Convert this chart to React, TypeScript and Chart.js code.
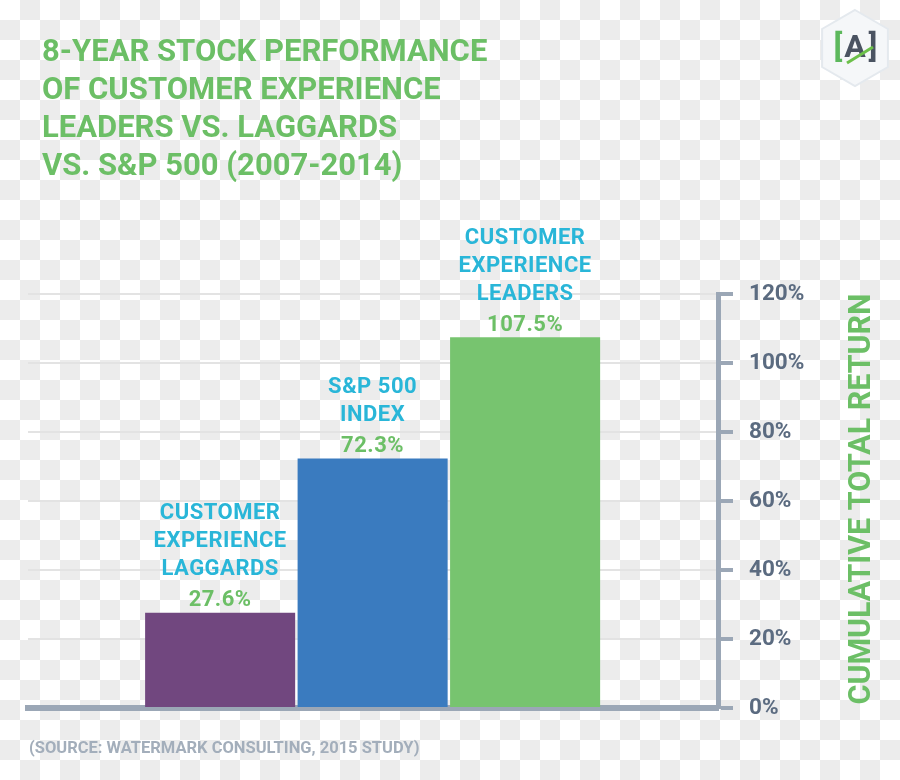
import React, { useEffect, useRef } from 'react';
import { Chart, registerables } from 'chart.js';

Chart.register(...registerables);

const TITLE_LINES = [
  '8-YEAR STOCK PERFORMANCE',
  'OF CUSTOMER EXPERIENCE',
  'LEADERS VS. LAGGARDS',
  'VS. S&P 500 (2007-2014)',
];
const CATEGORY_LINES = [
  ['CUSTOMER', 'EXPERIENCE', 'LAGGARDS'],
  ['S&P 500', 'INDEX'],
  ['CUSTOMER', 'EXPERIENCE', 'LEADERS'],
];
const VALUES = [27.6, 72.3, 107.5];
const BAR_COLORS = ['#71477f', '#3a7bbf', '#77c46f'];
const Y_TICKS = [0, 20, 40, 60, 80, 100, 120];
const AXIS_TITLE = 'CUMULATIVE TOTAL RETURN';
const SOURCE = '(SOURCE: WATERMARK CONSULTING, 2015 STUDY)';

const GREEN = '#6cbf66';
const CYAN = '#29b6d8';
const SLATE = '#5b6b80';
const AXIS = '#9ba7b6';
const FONT = 'Roboto, "Liberation Sans", sans-serif';

const overlay = {
  id: 'overlay',
  beforeDraw(chart: any) {
    const ctx = chart.ctx;
    ctx.save();
    // Title
    ctx.fillStyle = GREEN;
    ctx.font = `bold 31px ${FONT}`;
    ctx.textAlign = 'left';
    ctx.textBaseline = 'middle';
    TITLE_LINES.forEach((t, i) => ctx.fillText(t, 42, 53 + i * 38));

    // Source
    ctx.fillStyle = '#a3aebb';
    ctx.font = `bold 16.5px ${FONT}`;
    ctx.fillText(SOURCE, 29, 749);

    // Logo
    const cx = 855, cy = 48, R = 38;
    ctx.beginPath();
    for (let k = 0; k < 6; k++) {
      const a = -Math.PI / 2 + (k * Math.PI) / 3;
      const px = cx + R * Math.cos(a);
      const py = cy + R * Math.sin(a);
      if (k === 0) ctx.moveTo(px, py); else ctx.lineTo(px, py);
    }
    ctx.closePath();
    ctx.fillStyle = '#f5f7f9';
    ctx.fill();
    ctx.strokeStyle = '#e4e9ee';
    ctx.lineWidth = 2;
    ctx.stroke();
    ctx.font = `bold 32px ${FONT}`;
    ctx.textAlign = 'center';
    ctx.fillStyle = '#5cb85c';
    ctx.fillText('[', 838, 49);
    ctx.fillStyle = '#4a5361';
    ctx.fillText('A', 855, 49);
    ctx.fillText(']', 873, 49);
    ctx.strokeStyle = '#6cc04a';
    ctx.lineWidth = 3;
    ctx.beginPath();
    ctx.moveTo(847, 63);
    ctx.lineTo(873, 47);
    ctx.stroke();

    // Axis title (vertical, right)
    const yScale = chart.scales.y;
    const midY = (yScale.top + yScale.bottom) / 2;
    ctx.translate(862, midY - 2);
    ctx.rotate(-Math.PI / 2);
    ctx.font = `bold 32px ${FONT}`;
    ctx.fillStyle = GREEN;
    ctx.textAlign = 'center';
    ctx.textBaseline = 'middle';
    const w = ctx.measureText(AXIS_TITLE).width;
    ctx.scale(411 / w, 1);
    ctx.fillText(AXIS_TITLE, 0, 0);
    ctx.restore();
  },
  afterDatasetsDraw(chart: any) {
    const ctx = chart.ctx;
    const meta = chart.getDatasetMeta(0);
    ctx.save();
    ctx.textAlign = 'center';
    ctx.textBaseline = 'middle';
    try { (ctx as any).letterSpacing = '0.5px'; } catch (e) { /* ignore */ }
    meta.data.forEach((bar: any, i: number) => {
      const { x, y } = bar.getProps(['x', 'y'], true);
      const vy = y - 12;
      ctx.font = `bold 22px ${FONT}`;
      ctx.fillStyle = GREEN;
      ctx.fillText(`${VALUES[i]}%`, x, vy);
      const lines = CATEGORY_LINES[i];
      ctx.fillStyle = CYAN;
      lines.forEach((ln, j) => {
        const ly = vy - 31 - (lines.length - 1 - j) * 28;
        ctx.fillText(ln, x, ly);
      });
    });
    try { (ctx as any).letterSpacing = '0px'; } catch (e) { /* ignore */ }
    ctx.restore();
  },
};

export default function App() {
  const ref = useRef<HTMLCanvasElement | null>(null);
  useEffect(() => {
    if (!ref.current) return;
    const chart = new Chart(ref.current, {
      type: 'bar',
      data: {
        datasets: [
          {
            data: VALUES.map((v, i) => ({ x: i, y: v })),
            backgroundColor: BAR_COLORS,
            borderWidth: 0,
            barPercentage: 0.984,
            categoryPercentage: 1,
          },
        ],
      },
      options: {
        responsive: false,
        animation: false,
        events: [],
        layout: { padding: { top: 294, left: 28, right: 0, bottom: 0 } },
        plugins: { legend: { display: false }, tooltip: { enabled: false }, title: { display: false } },
        scales: {
          x: {
            type: 'linear',
            min: -1.26,
            max: 3.265,
            offset: false,
            z: 1,
            afterBuildTicks: (s: any) => {
              s.ticks = VALUES.map((_, i) => ({ value: i }));
            },
            afterFit: (s: any) => {
              s.height = 72;
            },
            ticks: { display: false },
            grid: { display: false, offset: false },
            border: { color: AXIS, width: 6 },
          },
          y: {
            position: 'right',
            min: 0,
            max: 120,
            afterBuildTicks: (s: any) => {
              s.ticks = Y_TICKS.map((v) => ({ value: v }));
            },
            afterFit: (s: any) => {
              s.width = 182;
            },
            grid: {
              color: '#e3e3e3',
              lineWidth: 2,
              tickColor: AXIS,
              tickWidth: 4,
              tickLength: 15,
              drawTicks: true,
            },
            border: { color: AXIS, width: 5 },
            ticks: {
              color: SLATE,
              padding: 16,
              font: { family: FONT, weight: 'bold', size: 22.5 },
              callback: (v: any) => `${v}%`,
            },
          },
        },
      },
      plugins: [overlay],
    } as any);
    return () => chart.destroy();
  }, []);

  return (
    <div
      style={{
        position: 'absolute',
        left: 0,
        top: 0,
        width: 900,
        height: 780,
        background: 'repeating-conic-gradient(#ececec 0% 25%, #ffffff 0% 50%) 0 0 / 40px 40px',
      }}
    >
      <canvas ref={ref} width={900} height={780} style={{ display: 'block', width: 900, height: 780 }} />
    </div>
  );
}
